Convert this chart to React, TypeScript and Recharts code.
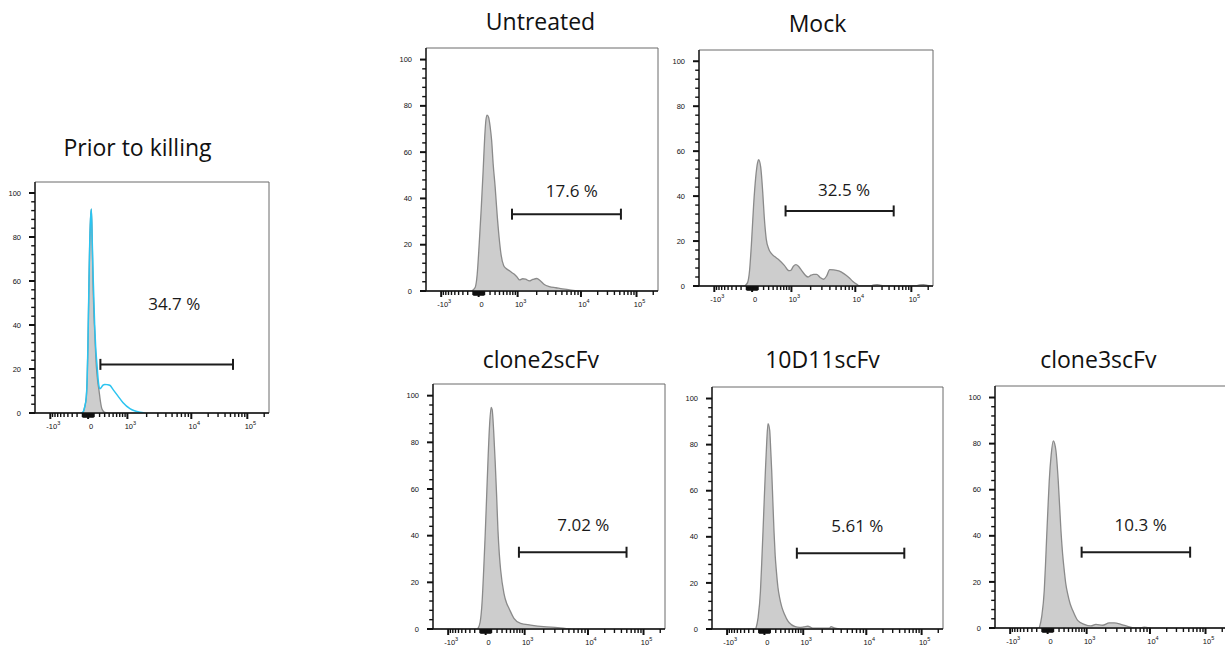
import React from 'react';
import { ComposedChart, Area, Line, XAxis, YAxis, ReferenceLine, ReferenceArea } from 'recharts';

// Histogram x positions are biexponential display positions (0 = zero intensity),
// y values are % of max count.
const priorGray = [
  [-7, 0], [-5.2, 0.3], [-3.5, 2.5], [-1.8, 7.3], [-0.9, 16], [-0.2, 30], [0.7, 55], [1.5, 75],
  [2.4, 88], [3.2, 92.7], [4, 80], [4.8, 60], [5.6, 47], [6.5, 37.5], [8.2, 21], [9.5, 14.5],
  [10.8, 10.3], [12, 6], [13.2, 2.7], [14.8, 1], [16.5, 0.3], [20, 0],
];

const priorCyan = [
  [-7, 0], [-5.2, 0.3], [-3.5, 2.5], [-1.8, 7.3], [-0.9, 16], [-0.2, 30], [0.7, 55], [1.5, 75],
  [2.4, 88], [3.2, 92.7], [4.1, 78], [5, 62], [6.5, 40], [7.5, 30], [8.8, 22], [10, 15],
  [11.5, 11], [13, 11.5], [14.8, 12.7], [16.5, 13], [19, 12.9], [21.5, 12.6], [25, 10.5],
  [29.5, 7.8], [34.5, 4.8], [41.5, 2], [46, 1], [51.5, 0.3], [56, 0],
];

const untreated = [
  [-7, 0], [-3.5, 1.5], [-1.5, 7], [0.5, 20], [2.5, 35], [4.5, 52], [6, 66], [7.3, 74], [8.5, 76],
  [10, 75], [11.5, 71], [13, 65], [14.5, 55], [16.5, 45], [18.5, 33], [20.5, 23], [22.5, 15.5],
  [25, 11], [27.5, 9.7], [30.7, 8.8], [33, 8], [35.7, 7.2], [38.5, 6], [41, 4.8], [44, 5.3],
  [47, 5.1], [50.7, 4.4], [54.2, 5], [58.2, 5.4], [61.7, 4.4], [65.7, 2.8], [70.7, 1.9],
  [77.4, 1.4], [84, 0.9], [92.4, 0.4], [102.4, 0],
];

const mock = [
  [-7.5, 0], [-4.5, 1.5], [-2.5, 7], [-0.5, 20], [1.5, 36], [3.5, 48], [5.5, 55], [6.5, 56.2],
  [8.5, 53], [10.5, 42], [12, 31], [14, 21], [16.5, 16.5], [19, 14.5], [22, 13.2], [27, 11.5],
  [32, 9.2], [36.5, 6.8], [38.5, 7], [41, 8.8], [43.5, 9.5], [46, 8.8], [49, 7], [52, 5.2],
  [55.5, 4], [58.5, 4.8], [61, 5.2], [64, 5.2], [67.5, 3.8], [71, 3], [74, 4.5], [77, 7.3],
  [81, 7.2], [86, 6.7], [91, 5.5], [96, 3.8], [100, 2], [104, 0.7], [107, 0], [117, 0],
  [120, 0.4], [124, 0.6], [128, 0.3], [131, 0], [163, 0], [166, 0.5], [170, 0.6], [174, 0.3],
  [177, 0],
];

const clone2 = [
  [-8, 0], [-5.5, 3], [-3.5, 12], [-2, 25], [-0.5, 40], [1, 57], [2.5, 74], [4, 88], [5.5, 95],
  [6.5, 94], [8, 85], [9.5, 72], [11, 57], [12.3, 42.4], [13.7, 32], [15, 25.3], [18.3, 15.3],
  [21, 11], [23.3, 8.9], [28.3, 4.6], [35, 2.4], [45, 1.7], [58, 1], [72, 0.6], [85, 0],
];

const tenD11 = [
  [-8.7, 0], [-6.4, 4.8], [-4, 16.4], [-2.7, 29], [-1.4, 42.6], [-0.2, 56], [1, 68.8], [2.3, 81],
  [3.6, 89.1], [5.3, 86.2], [6.3, 78], [7.3, 68.8], [8.5, 55], [9.6, 42.6], [10.8, 32],
  [12, 25.2], [13.6, 18], [15.3, 13.5], [17.5, 9.5], [20.3, 6.3], [23.5, 3.5], [27, 1.9],
  [31, 1], [35.3, 0.7], [39.5, 0.9], [43.6, 1.2], [48.6, 0.4], [56, 0.4], [65.3, 0.4], [67, 1],
  [70, 0.5], [75.3, 0],
];

const clone3 = [
  [-8.4, 0], [-6, 4.8], [-3.4, 16.3], [-2.2, 27], [-1, 39.4], [0.3, 52], [1.6, 63.9], [3.5, 75],
  [5.6, 81.2], [7, 80], [8.3, 76.9], [10.6, 63.9], [13.3, 42.3], [15, 32], [16.6, 25],
  [18.2, 19], [20, 14.9], [22.5, 10.5], [25, 7.7], [30, 3.3], [36.6, 1.6], [43.3, 0.9],
  [48.3, 1.6], [55, 1.2], [61.6, 2.2], [66.6, 2.2], [73.3, 1.6], [80, 0.7], [86.6, 0], [92, 0],
  [96.6, 0.4], [100, 0.2], [103.3, 0],
];

const TITLES = ['Prior to killing', 'Untreated', 'Mock', 'clone2scFv', '10D11scFv', 'clone3scFv'];
const HISTOGRAMS = [priorGray, untreated, mock, clone2, tenD11, clone3];
const PERCENT = [34.7, 17.6, 32.5, 7.02, 5.61, 10.3];
const GATE_START = [12.2, 33.4, 33.2, 33.3, 32.6, 34.0];
const GATE_END = [143.8, 142.4, 140.5, 141.0, 140.6, 142.6];
const GATE_LEVEL = [22.1, 33.2, 33.4, 32.9, 32.9, 32.9];

// axis tick values (intensity) and labels
const MAJOR_VALUES = [-1000, 0, 1000, 10000, 100000];
const MAJOR_LABELS = [['-10', '3'], ['0', ''], ['10', '3'], ['10', '4'], ['10', '5']];
const Y_MAJOR = [0, 20, 40, 60, 80, 100];

const X_DOMAIN: [number, number] = [-52.7, 179.5];
const Y_DOMAIN: [number, number] = [0, 105];

// plot-area boxes on the page
const LAYOUT = [
  { left: 35, top: 182, width: 234, height: 231, titleX: 137.5, titleY: 156, pctDx: 7.5, pctRise: 54 },
  { left: 426, top: 48, width: 232, height: 243, titleX: 540.5, titleY: 29.5, pctDx: 5.3, pctRise: 17.3 },
  { left: 699, top: 50, width: 234, height: 236, titleX: 817.5, titleY: 31.5, pctDx: 4.5, pctRise: 15 },
  { left: 433, top: 384, width: 232, height: 245, titleX: 540.8, titleY: 367.7, pctDx: 10.6, pctRise: 21.6 },
  { left: 712, top: 387, width: 231, height: 242, titleX: 822.5, titleY: 368.3, pctDx: 6.7, pctRise: 21.6 },
  { left: 995, top: 386, width: 232, height: 242, titleX: 1098.3, titleY: 368.3, pctDx: 4.8, pctRise: 21 },
];

const M_LEFT = 40;
const M_TOP = 8;
const M_RIGHT = 6;
const X_AXIS_H = 22;

// biexponential display: asinh near zero, log above 10^3
function toDisplay(v: number): number {
  const c = 400;
  const lin = Math.asinh(1000 / c);
  if (v < 0) return -37.5 * Math.asinh(-v / c) / lin;
  if (v <= 1000) return 39 * Math.asinh(v / c) / lin;
  if (v <= 10000) return 39 + 63.4 * Math.log10(v / 1000);
  if (v <= 100000) return 102.4 + 55.6 * Math.log10(v / 10000);
  return 158 + 55.6 * Math.log10(v / 100000);
}

type TickInfo = { pos: number; kind: 'major' | 'minor' | 'fine'; label?: string[] };

const X_TICK_INFO: TickInfo[] = (() => {
  const list: TickInfo[] = [];
  MAJOR_VALUES.forEach((v, i) => list.push({ pos: toDisplay(v), kind: 'major', label: MAJOR_LABELS[i] }));
  for (let k = 1; k <= 9; k++) {
    list.push({ pos: toDisplay(-k * 100), kind: 'minor' });
    list.push({ pos: toDisplay(k * 100), kind: 'minor' });
    list.push({ pos: toDisplay(-k * 10), kind: 'fine' });
    list.push({ pos: toDisplay(k * 10), kind: 'fine' });
  }
  for (let k = 2; k <= 9; k++) {
    list.push({ pos: toDisplay(k * 1000), kind: 'minor' });
    list.push({ pos: toDisplay(k * 10000), kind: 'minor' });
  }
  list.push({ pos: toDisplay(200000), kind: 'minor' });
  return list.sort((a, b) => a.pos - b.pos);
})();

const X_TICKS = X_TICK_INFO.map((t) => t.pos);
const Y_TICKS = Array.from({ length: 26 }, (_, i) => i * 4);

const AXIS_COLOR = '#111';
const TICK_FONT = '"Liberation Sans", Arial, sans-serif';
const TEXT_FONT = '"Open Sans", "Noto Sans", sans-serif';

function XTick(props: any) {
  const { x, y, payload } = props;
  const info = X_TICK_INFO.find((t) => Math.abs(t.pos - payload.value) < 1e-6);
  if (!info) return null;
  const len = info.kind === 'major' ? 6 : info.kind === 'fine' ? 4.5 : 4;
  return (
    <g>
      <path
        d={`M${x},${y}V${y + len}`}
        stroke={AXIS_COLOR}
        strokeWidth={info.kind === 'major' ? 2 : 1.4}
        fill="none"
      />
      {info.label && (
        <text x={x + 3} y={y + 16} textAnchor="middle" fontFamily={TICK_FONT} fontSize={7.5} fill="#111">
          {info.label[0]}
          {info.label[1] && (
            <tspan dy={-4} fontSize={5.5}>
              {info.label[1]}
            </tspan>
          )}
        </text>
      )}
    </g>
  );
}

function YTick(props: any) {
  const { x, y, payload } = props;
  const major = Y_MAJOR.includes(payload.value);
  return (
    <g>
      <path
        d={`M${x},${y}H${x - (major ? 6 : 3.8)}`}
        stroke={AXIS_COLOR}
        strokeWidth={major ? 2 : 1.4}
        fill="none"
      />
      {major && (
        <text x={x - 14} y={y} dy="0.35em" textAnchor="end" fontFamily={TICK_FONT} fontSize={7.5} fill="#111">
          {payload.value}
        </text>
      )}
    </g>
  );
}

function GateShape(props: any) {
  const { x1, y1, x2, text, dx, rise } = props;
  const cap = 5.5;
  return (
    <g>
      <line x1={x1} x2={x2} y1={y1} y2={y1} stroke="#1c1c1c" strokeWidth={2} />
      <line x1={x1} x2={x1} y1={y1 - cap} y2={y1 + cap} stroke="#1c1c1c" strokeWidth={2} />
      <line x1={x2} x2={x2} y1={y1 - cap} y2={y1 + cap} stroke="#1c1c1c" strokeWidth={2} />
      <text x={(x1 + x2) / 2 + dx} y={y1 - rise} textAnchor="middle" fontFamily={TEXT_FONT} fontSize={17} fill="#1a1a1a">
        {text}
      </text>
    </g>
  );
}

const toRows = (pts: number[][]) => pts.map(([ch, n]) => ({ ch, n }));

function Panel({ index }: { index: number }) {
  const box = LAYOUT[index];
  const rows = toRows(HISTOGRAMS[index]);
  const w = box.width + M_LEFT + M_RIGHT;
  const h = box.height + M_TOP + X_AXIS_H;
  return (
    <div style={{ position: 'absolute', left: box.left - M_LEFT, top: box.top - M_TOP }}>
      <ComposedChart width={w} height={h} data={rows} margin={{ top: M_TOP, right: M_RIGHT, bottom: 0, left: 15 }}>
        <XAxis
          type="number"
          dataKey="ch"
          domain={X_DOMAIN}
          allowDataOverflow
          ticks={X_TICKS}
          interval={0}
          tick={<XTick />}
          tickLine={false}
          tickSize={0}
          tickMargin={0}
          height={X_AXIS_H}
          axisLine={{ stroke: AXIS_COLOR, strokeWidth: 1.3 }}
        />
        <YAxis
          type="number"
          domain={Y_DOMAIN}
          allowDataOverflow
          ticks={Y_TICKS}
          interval={0}
          tick={<YTick />}
          tickLine={false}
          tickSize={0}
          tickMargin={0}
          width={25}
          axisLine={{ stroke: AXIS_COLOR, strokeWidth: 1.3 }}
        />
        <ReferenceArea
          x1={X_DOMAIN[0]}
          x2={X_DOMAIN[1]}
          y1={Y_DOMAIN[0]}
          y2={Y_DOMAIN[1]}
          fill="none"
          stroke="#6a6a6a"
          strokeWidth={1}
          ifOverflow="visible"
        />
        {index === 0 && (
          <Line
            data={toRows(priorCyan)}
            type="monotone"
            dataKey="n"
            stroke="#2bc4f0"
            strokeWidth={1.5}
            dot={false}
            activeDot={false}
            isAnimationActive={false}
          />
        )}
        <Area
          type="monotone"
          dataKey="n"
          stroke="#8a8a8a"
          strokeWidth={1.3}
          fill="#cdcdcd"
          fillOpacity={1}
          baseValue={0}
          dot={false}
          activeDot={false}
          isAnimationActive={false}
        />
        <ReferenceLine
          segment={[
            { x: GATE_START[index], y: GATE_LEVEL[index] },
            { x: GATE_END[index], y: GATE_LEVEL[index] },
          ]}
          ifOverflow="visible"
          shape={(p: any) => <GateShape {...p} text={`${PERCENT[index]} %`} dx={box.pctDx} rise={box.pctRise} />}
        />
      </ComposedChart>
    </div>
  );
}

export default function App() {
  return (
    <div style={{ position: 'absolute', left: 0, top: 0, width: 1225, height: 651, overflow: 'hidden', background: '#fff' }}>
      {TITLES.map((_, i) => (
        <Panel key={i} index={i} />
      ))}
      <svg width={1225} height={651} style={{ position: 'absolute', left: 0, top: 0, pointerEvents: 'none' }}>
        {TITLES.map((t, i) => (
          <text
            key={t}
            x={LAYOUT[i].titleX}
            y={LAYOUT[i].titleY}
            textAnchor="middle"
            fontFamily={TEXT_FONT}
            fontSize={23}
            fill="#111"
          >
            {t}
          </text>
        ))}
      </svg>
    </div>
  );
}
